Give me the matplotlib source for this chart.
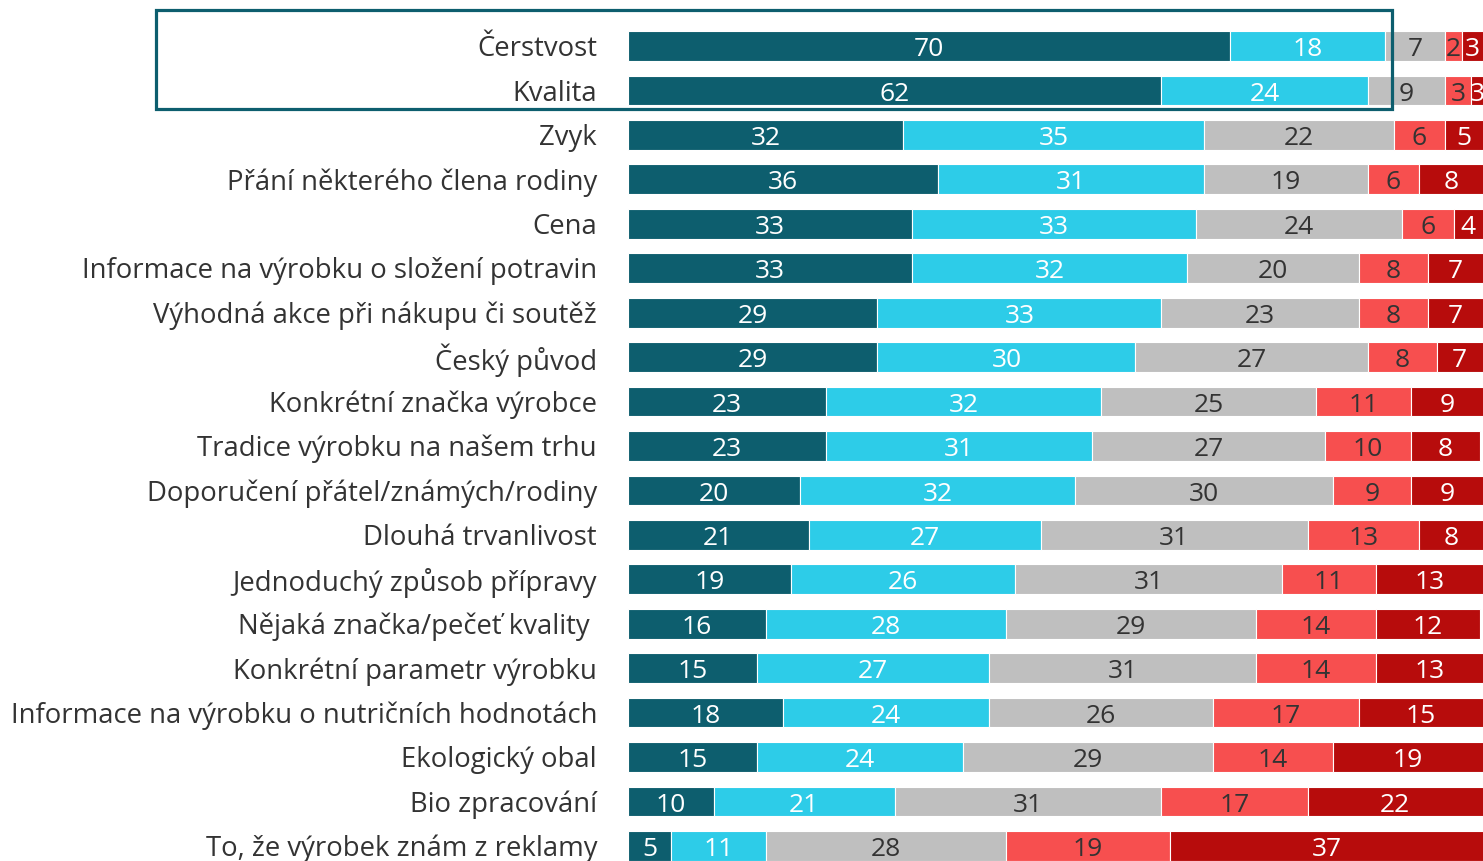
import numpy as np
import matplotlib
matplotlib.use('Agg')
from matplotlib import pyplot as plt
from matplotlib.patches import Rectangle

categories = [
    'Čerstvost', 'Kvalita', 'Zvyk', 'Přání některého člena rodiny', 'Cena',
    'Informace na výrobku o složení potravin',
    'Výhodná akce při nákupu či soutěž', 'Český původ',
    'Konkrétní značka výrobce', 'Tradice výrobku na našem trhu',
    'Doporučení přátel/známých/rodiny', 'Dlouhá trvanlivost',
    'Jednoduchý způsob přípravy', 'Nějaká značka/pečeť kvality ',
    'Konkrétní parametr výrobku',
    'Informace na výrobku o nutričních hodnotách', 'Ekologický obal',
    'Bio zpracování', 'To, že výrobek znám z reklamy',
]
s1 = [70, 62, 32, 36, 33, 33, 29, 29, 23, 23, 20, 21, 19, 16, 15, 18, 15, 10, 5]
s2 = [18, 24, 35, 31, 33, 32, 33, 30, 32, 31, 32, 27, 26, 28, 27, 24, 24, 21, 11]
s3 = [7, 9, 22, 19, 24, 20, 23, 27, 25, 27, 30, 31, 31, 29, 31, 26, 29, 31, 28]
s4 = [2, 3, 6, 6, 6, 8, 8, 8, 11, 10, 9, 13, 11, 14, 14, 17, 14, 17, 19]
s5 = [3, 3, 5, 8, 4, 7, 7, 7, 9, 8, 9, 8, 13, 12, 13, 15, 19, 22, 37]

series = [s1, s2, s3, s4, s5]
colors = ['#0d5e6e', '#2dcce8', '#bfbfbf', '#f74f4f', '#b70c0c']
txtcol = ['white', 'white', '#333333', '#333333', 'white']

W, H = 1483, 862
XMAX = 99.4
fig = plt.figure(figsize=(W / 100, H / 100), dpi=100)
left = 628 / W
ax = fig.add_axes([left, 0, 1 - left, 1])

y = np.arange(len(categories))
base = np.zeros(len(categories))
font = 'Open Sans'
for vals, c, tc in zip(series, colors, txtcol):
    vals = np.array(vals, dtype=float)
    ax.barh(y, vals, left=base, height=0.67, color=c,
            edgecolor='white', linewidth=0.8)
    for yi, b, v in zip(y, base, vals):
        # center in the visible part of the segment
        xc = (b + min(b + v, XMAX)) / 2
        ax.text(xc, yi + 0.06, '%d' % v, ha='center', va='center',
                color=tc, fontsize=19, family=font)
    base += vals

for yi, cat in zip(y, categories):
    ax.text(-3.6, yi + 0.05, cat, ha='right', va='center', color='#333333',
            fontsize=19.8, family=font, clip_on=False)

ax.set_xlim(0, XMAX)
ax.set_ylim((H - 47) / 44.44, -47 / 44.44)
ax.axis('off')

# highlight box around the first two rows
fig.patches.append(Rectangle((155.5 / W, 1 - 109.5 / H),
                             (1391.5 - 155.5) / W, 99 / H,
                             transform=fig.transFigure, fill=False,
                             edgecolor='#0d5e6e', linewidth=2.3, zorder=5))

fig.savefig('out.png', dpi=100)
